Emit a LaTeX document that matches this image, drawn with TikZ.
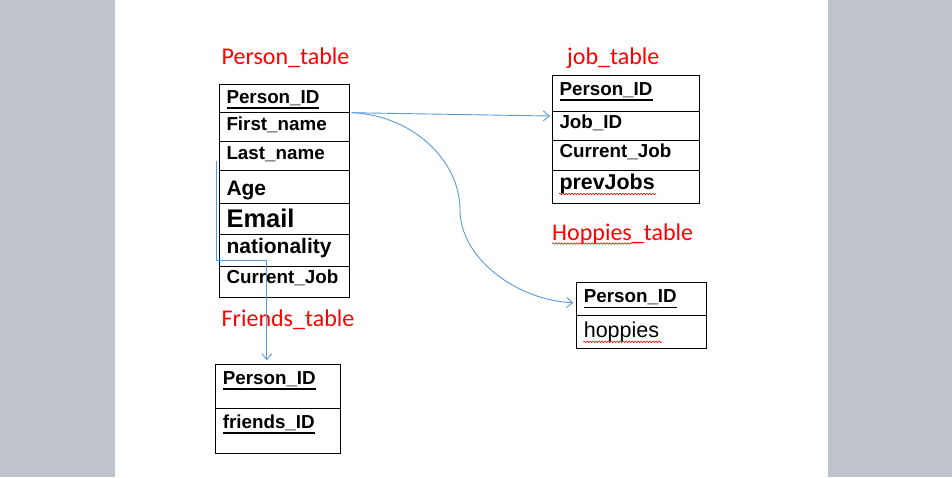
\documentclass[tikz,border=0pt]{standalone}
\usepackage{fontspec}
\setmainfont{Liberation Sans}
\newfontfamily\lblfont{Carlito}
\usetikzlibrary{arrows.meta, decorations.pathmorphing}
\definecolor{pagegray}{RGB}{191,195,202}
\definecolor{linkblue}{RGB}{91,155,213}
\newcommand{\keyfld}[1]{\setbox0\hbox{#1}\rlap{\rule[-5.5pt]{\wd0}{1.5pt}}\box0}
\newcommand{\fsz}[1]{\fontsize{#1}{#1}\selectfont}

\begin{document}
\begin{tikzpicture}[x=1pt, y=-1pt]
	\tikzstyle{field}=[draw, line width=1pt, anchor=north west, inner xsep=7.5pt, inner ysep=0pt, outer sep=0pt, align=left, font=\bfseries\fsz{18.8}]
	\tikzstyle{ptab}=[field, text width=115pt]
	\tikzstyle{jtab}=[field, text width=132pt]
	\tikzstyle{htab}=[field, text width=115pt]
	\tikzstyle{ftab}=[field, text width=110pt]
	\tikzstyle{tname}=[anchor=base west, inner sep=0pt, text=red, font=\lblfont\fsz{24}]
	\tikzstyle{link}=[draw=linkblue, line width=0.9pt, -{Straight Barb[length=6pt,width=10pt]}]
	\tikzstyle{squiggle}=[red, line width=0.6pt, decorate, decoration={snake, amplitude=0.8pt, segment length=3pt}]

	\useasboundingbox (0,0) rectangle (952,477);
	\fill[pagegray] (0,0) rectangle (952,477);
	\fill[white] (115,0) rectangle (828,477);

	% table names
	\node[tname] (ptname) at (221.5,64) {Person\_table};
	\node[tname] (jtname) at (567,64.5) {job\_table};
	\node[tname] (htname) at (552,240) {Hoppies\_table};
	\node[tname] (ftname) at (221.5,326.7) {Friends\_table};

	% Person_table
	\node[ptab, text height=19pt, text depth=9.4pt] (pid) at (219,84.3) {\keyfld{Person\_ID}};
	\node[ptab, text height=18pt, text depth=11pt] (fname) at (pid.south west) {First\_name};
	\node[ptab, text height=17.6pt, text depth=11pt] (lname) at (fname.south west) {Last\_name};
	\node[ptab, text height=24.7pt, text depth=8.3pt, font=\bfseries\fsz{21}] (age) at (lname.south west) {Age};
	\node[ptab, text height=24pt, text depth=7pt, font=\bfseries\fsz{25.5}] (email) at (age.south west) {Email};
	\node[ptab, text height=19pt, text depth=12.7pt, font=\bfseries\fsz{21}] (nat) at (email.south west) {nationality};
	\node[ptab, text height=17.3pt, text depth=14.4pt] (pcjob) at (nat.south west) {Current\_Job};

	% job_table
	\node[jtab, text height=19.7pt, text depth=16pt] (jpid) at (552,75.3) {\keyfld{Person\_ID}};
	\node[jtab, text height=17.3pt, text depth=11.7pt] (jid) at (jpid.south west) {Job\_ID};
	\node[jtab, text height=17.3pt, text depth=13pt] (jcjob) at (jid.south west) {Current\_Job};
	\node[jtab, text height=18.7pt, text depth=14.3pt, font=\bfseries\fsz{21.4}] (prevj) at (jcjob.south west) {prevJobs};

	% Hoppies_table
	\node[htab, text height=20.4pt, text depth=12.6pt] (hpid) at (576.3,282.3) {\keyfld{Person\_ID}};
	\node[htab, text height=22pt, text depth=10.7pt, font=\mdseries\fsz{21.5}] (hop) at (hpid.south west) {hoppies};

	% Friends_table
	\node[ftab, text height=20pt, text depth=24pt] (fpid) at (215.3,364.3) {\keyfld{Person\_ID}};
	\node[ftab, text height=20pt, text depth=25pt] (frid) at (fpid.south west) {\keyfld{friends\_ID}};

	% spelling marks
	\draw[squiggle] ([xshift=7pt,yshift=-5pt]prevj.base west) -- ++(97,0);
	\draw[squiggle] ([xshift=7pt,yshift=-4.5pt]hop.base west) -- ++(79,0);
	\draw[squiggle] ([yshift=-3.5pt]htname.base west) -- ++(80,0);

	% links
	\coordinate (lnk) at (216,161);
	\draw[link] ([xshift=2.5pt]pid.south east) -- ([xshift=-2pt,yshift=-5pt]jid.north west);
	\draw[link] ([xshift=2.5pt]pid.south east) .. controls (412,115) and (460,160) .. (460,210)
		.. controls (460,257) and (515,300) .. ([xshift=-3pt,yshift=-4pt]hpid.west);
	\draw[link] (lnk) -- ++(0,99) -| ([xshift=51.5pt,yshift=4pt]fpid.north west);
\end{tikzpicture}
\end{document}
